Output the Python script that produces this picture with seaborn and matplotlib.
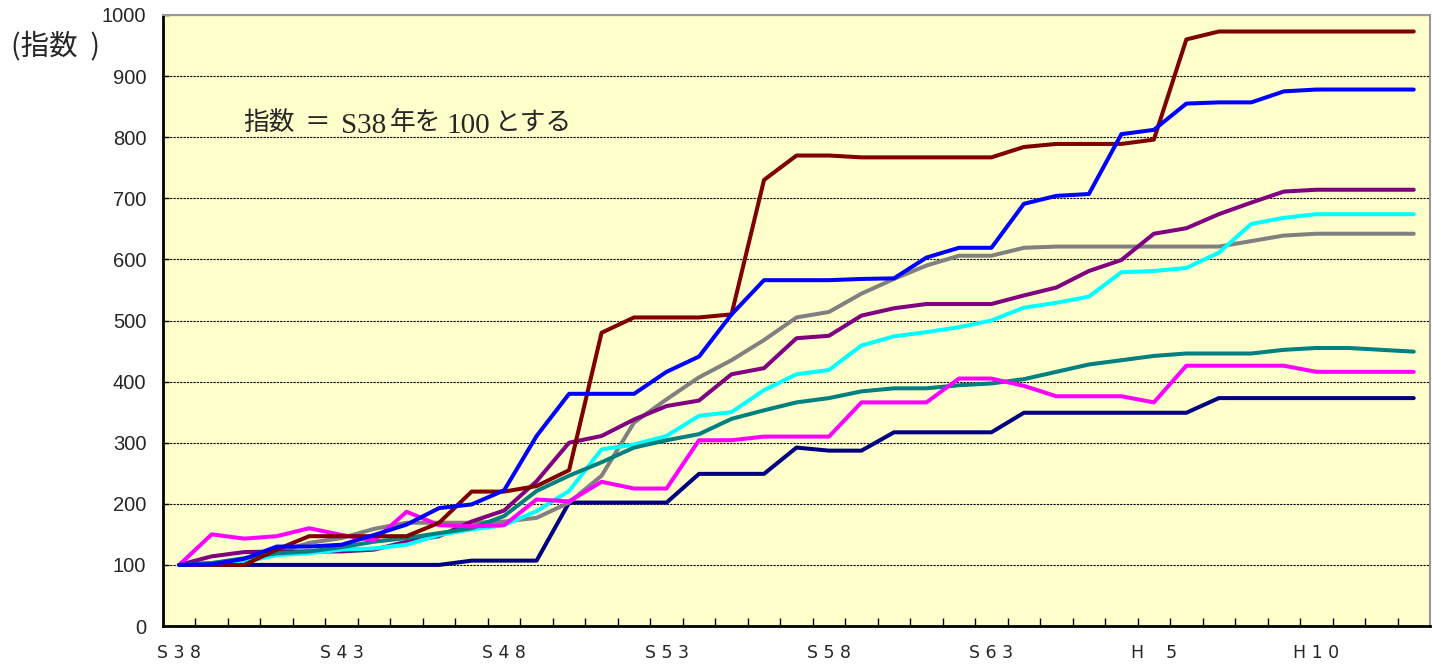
import numpy as np
import pandas as pd
import matplotlib
matplotlib.use("Agg")
import matplotlib.pyplot as plt
import seaborn as sns

# ---------------- data ----------------
years = ["S38","S39","S40","S41","S42","S43","S44","S45","S46","S47",
         "S48","S49","S50","S51","S52","S53","S54","S55","S56","S57",
         "S58","S59","S60","S61","S62","S63","H1","H2","H3","H4",
         "H5","H6","H7","H8","H9","H10","H11","H12","H13"]

tick_labels = {"S38": "S 3 8", "S43": "S 4 3", "S48": "S 4 8", "S53": "S 5 3",
               "S58": "S 5 8", "S63": "S 6 3", "H5": "H \u2007 5", "H10": "H 1 0"}

maroon = [100,100,100,125,147,147,147,147,169,220,220,229,255,480,505,505,505,510,730,770,
          770,767,767,767,767,767,784,789,789,789,796,960,973,973,973,973,973,973,973]
blue = [100,101,110,130,130,133,149,166,193,199,222,311,380,380,380,416,441,510,566,566,
        566,568,569,603,619,619,691,704,707,805,812,855,857,857,875,878,878,878,878]
purple = [100,114,121,122,122,122,125,138,147,171,189,237,300,311,338,360,369,412,422,471,
          475,508,520,527,527,527,541,554,581,599,642,651,674,693,711,714,714,714,714]
cyan = [100,100,105,116,119,125,127,133,149,158,165,188,221,289,297,311,344,350,386,412,
        419,459,474,481,489,500,521,529,539,579,581,586,611,658,668,674,674,674,674]
gray = [100,103,108,120,136,144,159,169,169,169,171,177,202,246,333,371,407,435,468,505,
        514,544,568,590,606,606,619,621,621,621,621,621,621,630,639,642,642,642,642]
teal = [100,103,111,119,122,129,138,144,152,160,180,221,246,268,292,304,314,339,353,366,
        373,384,389,389,394,397,404,416,428,435,442,446,446,446,452,455,455,452,449]
magenta = [100,150,143,147,160,149,140,187,165,163,165,207,204,236,225,225,304,304,310,310,
           310,366,366,366,405,405,393,376,376,376,366,426,426,426,426,416,416,416,416]
navy = [100,100,100,100,100,100,100,100,100,107,107,107,202,202,202,202,249,249,249,292,
        287,287,317,317,317,317,349,349,349,349,349,349,373,373,373,373,373,373,373]

series = {"navy": navy, "gray": gray, "purple": purple, "cyan": cyan, "teal": teal,
          "magenta": magenta, "maroon": maroon, "blue": blue}
palette = {"navy": "#000080", "gray": "#808080", "purple": "#800080", "cyan": "#00FFFF",
           "teal": "#008080", "magenta": "#FF00FF", "maroon": "#800000", "blue": "#0000FF"}

# note text pieces (CJK in gothic, Latin in serif)
note_pieces = [("指数", "cjk"), ("＝", "cjk"), ("S38", "latin"), ("年を", "cjk"),
               ("100", "latin"), ("とする", "cjk")]

rows = []
for name, vals in series.items():
    for i, v in enumerate(vals):
        rows.append({"idx": i, "year": years[i], "value": v, "series": name})
df = pd.DataFrame(rows)

# ---------------- plot ----------------
sns.set_theme(style="white")
plt.rcParams["font.family"] = ["DejaVu Sans", "Noto Sans CJK JP"]

W, H = 1432, 665
fig = plt.figure(figsize=(W / 100, H / 100), dpi=100)
ax = fig.add_axes([163 / W, 39 / H, 1267 / W, 611 / H])
ax.set_facecolor("#FFFFCC")

sns.lineplot(data=df, x="idx", y="value", hue="series", hue_order=list(series.keys()),
             palette=palette, linewidth=2.9, legend=False, ax=ax, sort=False)

ax.set_xlim(-0.5, len(years) - 0.5)
ax.set_ylim(0, 1000)

# gridlines
ax.set_yticks(np.arange(0, 1001, 100))
ax.yaxis.grid(True, color="black", linestyle=(0, (2, 1)), linewidth=0.8)
ax.set_axisbelow(True)

# x ticks: labels at categories, minor ticks between categories
pos = [i for i, y in enumerate(years) if y in tick_labels]
ax.set_xticks(pos)
ax.set_xticklabels([tick_labels[years[i]] for i in pos], fontsize=12.5, family="DejaVu Sans")
ax.set_xticks(np.arange(0.5, len(years) - 1, 1), minor=True)
ax.tick_params(axis="x", which="major", length=0, pad=13)
ax.tick_params(axis="x", which="minor", direction="in", length=6, width=1, color="black",
               bottom=True)
ax.tick_params(axis="y", which="major", direction="in", length=4, width=1, color="black",
               left=True, pad=12, labelsize=14.5)
for lab in ax.get_yticklabels():
    lab.set_family("Liberation Sans")

ax.set_xlabel("")
ax.set_ylabel("")

for side in ["left", "bottom"]:
    ax.spines[side].set_color("black")
    ax.spines[side].set_linewidth(2)
ax.spines["top"].set_color("#999999")
ax.spines["top"].set_linestyle((0, (2, 1)))
ax.spines["top"].set_linewidth(1.5)
ax.spines["right"].set_color("#999999")
ax.spines["right"].set_linewidth(1.5)

# axis caption
fig.text(11 / W, 1 - 46 / H, "(指数  )", fontsize=20.5, va="center", ha="left",
         family=["Noto Sans CJK JP", "DejaVu Sans"])

# note, placed piece by piece (each piece starts right after the previous one)
renderer = fig.canvas.get_renderer()
gaps = [0, 10, 11, 3, 5, 5]
x = 243
for (txt, kind), g in zip(note_pieces, gaps):
    x += g
    if kind == "cjk":
        t = fig.text(x / W, 1 - 130 / H, txt, fontsize=18.5, va="baseline", ha="left",
                     family=["Noto Sans CJK JP", "DejaVu Sans"])
    else:
        t = fig.text(x / W, 1 - 133 / H, txt, fontsize=21, va="baseline", ha="left",
                     family=["Liberation Serif", "DejaVu Serif"])
    x = t.get_window_extent(renderer).x1

fig.savefig("out.png", dpi=100)
